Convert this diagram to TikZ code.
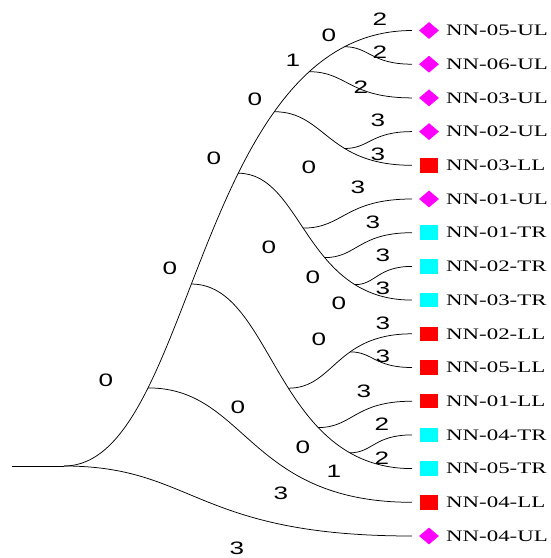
\documentclass[tikz,border=0pt]{standalone}
\usepackage{fontspec}
\usetikzlibrary{shapes.geometric}
\newfontfamily\tipfont[FakeStretch=1.43]{Liberation Serif}
\newfontfamily\lblfont[FakeStretch=1.45]{Liberation Sans}
\definecolor{ulcol}{HTML}{FF00FF}
\definecolor{llcol}{HTML}{FF0000}
\definecolor{trcol}{HTML}{00FFFF}
\begin{document}
\begin{tikzpicture}[x=1pt,y=-1pt,
  edge/.style={line width=0.75pt,black},
  % smooth branch: leaves a node horizontally, reaches its target horizontally
  br/.style 2 args={out=0,in=180,out distance=#1pt,in distance=#2pt},
  tiplab/.style={anchor=west,inner sep=0pt,font=\tipfont\fontsize{16}{16}\selectfont},
  elab/.style={inner sep=0pt,font=\lblfont\fontsize{18}{18}\selectfont},
  ul/.style={diamond,fill=ulcol,draw=none,inner sep=0pt,minimum width=20pt,minimum height=17pt},
  ll/.style={rectangle,fill=llcol,draw=none,inner sep=0pt,minimum width=17.5pt,minimum height=14.5pt},
  tr/.style={rectangle,fill=trcol,draw=none,inner sep=0pt,minimum width=17.5pt,minimum height=14.5pt}]
\useasboundingbox (0,0) rectangle (550,558);
\clip (0,0) rectangle (550,558);

% leaves: branch end, marker and name
\foreach \k/\lab/\kind in {0/NN-05-UL/ul,1/NN-06-UL/ul,2/NN-03-UL/ul,3/NN-02-UL/ul,
  4/NN-03-LL/ll,5/NN-01-UL/ul,6/NN-01-TR/tr,7/NN-02-TR/tr,8/NN-03-TR/tr,
  9/NN-02-LL/ll,10/NN-05-LL/ll,11/NN-01-LL/ll,12/NN-04-TR/tr,13/NN-05-TR/tr,
  14/NN-04-LL/ll,15/NN-04-UL/ul}{
  \coordinate (e\k) at (412,30.5+33.7*\k);
  \node[\kind] (m\k) at (429,30.5+33.7*\k) {};
  \node[tiplab] (l\k) at (446,30.5+33.7*\k) {\lab};
}

% root and its stub
\coordinate (R) at (64,466);
\coordinate (stub) at (12,466);
\draw[edge] (stub) -- (R);

% main ladder from the root up to NN-05-UL
\draw[edge] (R) to[br={130.5}{217.5}]
  coordinate[pos=0.27] (A) coordinate[pos=0.445] (B) coordinate[pos=0.617] (C)
  coordinate[pos=0.724] (D) coordinate[pos=0.81] (E) coordinate[pos=0.884] (F) (e0);
\draw[edge] (R) to[br={130.5}{217.5}] (e15);
\draw[edge] (A) to[br={98.8}{164.7}] (e14);

% ladder from B down to NN-05-TR
\draw[edge] (B) to[br={82.5}{137.4}]
  coordinate[pos=0.543] (K) coordinate[pos=0.695] (L) coordinate[pos=0.82] (M) (e13);
\draw[edge] (K) to[br={45.9}{76.5}] coordinate[pos=0.614] (N) (e9);
\draw[edge] (N) to[br={22.7}{37.8}] (e10);
\draw[edge] (L) to[br={34.7}{57.8}] (e11);
\draw[edge] (M) to[br={22.8}{37.9}] (e12);

% ladder from C down to NN-03-TR
\draw[edge] (C) to[br={64.8}{107.9}]
  coordinate[pos=0.455] (G) coordinate[pos=0.612] (H) coordinate[pos=0.782] (I) (e8);
\draw[edge] (G) to[br={40.3}{67.2}] (e5);
\draw[edge] (H) to[br={32.3}{53.8}] (e6);
\draw[edge] (I) to[br={20.9}{34.8}] (e7);

% ladder from D down to NN-03-LL
\draw[edge] (D) to[br={51.2}{85.3}] coordinate[pos=0.627] (J) (e4);
\draw[edge] (J) to[br={24.7}{41.2}] (e3);
\draw[edge] (E) to[br={38}{63.4}] (e2);
\draw[edge] (F) to[br={24.7}{41.1}] (e1);

% branch values
\foreach \px/\py/\v [count=\i] in {380/19/2,329/35/0,380/52/2,293/60/1,361/87/2,
  255/99/0,378/120/3,378/154/3,214/158/0,309/167/0,358/187/3,269/247/0,
  373/222/3,383/255/3,313/277/0,383/288/3,339/303/0,383/323/3,319/339/0,
  383/356/3,364/391/3,382/424/2,303/447/0,382/458/2,334/471/1,281/493/3,
  106/380/0,238/407/0,237/548/3,170/268/0}{
  \node[elab] (v\i) at (\px,\py) {\v};
}
\end{tikzpicture}
\end{document}
